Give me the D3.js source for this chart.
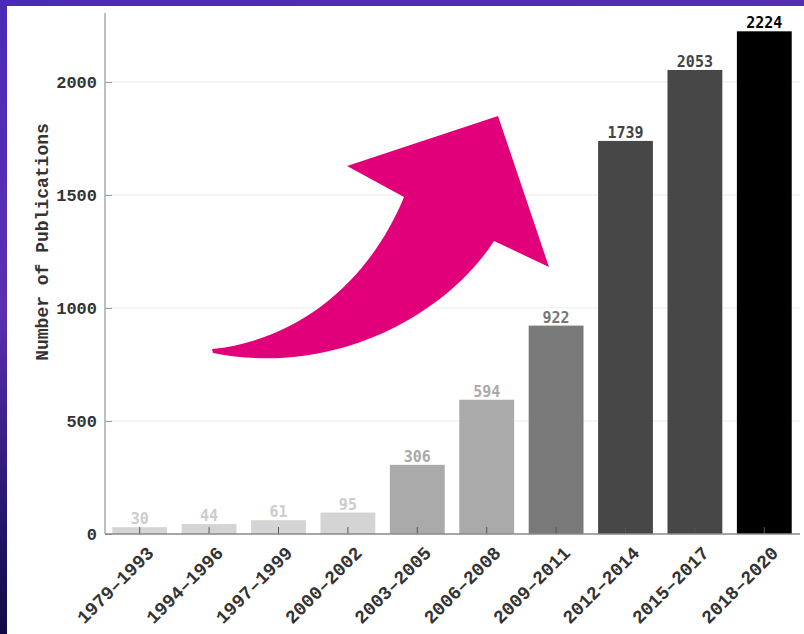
<!DOCTYPE html>
<html><head><meta charset="utf-8">
<script src="https://cdn.jsdelivr.net/npm/d3@7"></script>
<style>html,body{margin:0;padding:0;background:#2a1a80;}svg{display:block;}</style>
</head><body>
<svg id="chart" width="804" height="634"></svg>
<script>
const categories = ["1979–1993","1994–1996","1997–1999","2000–2002","2003–2005","2006–2008","2009–2011","2012–2014","2015–2017","2018–2020"];
const publications = [30,44,61,95,306,594,922,1739,2053,2224];
const barColors = ["#d4d4d4","#d4d4d4","#d4d4d4","#d4d4d4","#aaaaaa","#aaaaaa","#7a7a7a","#474747","#474747","#000000"];
const labelColors = ["#cccccc","#cccccc","#cccccc","#cccccc","#aaaaaa","#aaaaaa","#777777","#444444","#444444","#000000"];
const yTicks = [0,500,1000,1500,2000];
const yMax = 2305;

const svg = d3.select("#chart");
const defs = svg.append("defs");
const g1 = defs.append("linearGradient").attr("id","bg").attr("x1","0").attr("y1","0").attr("x2","0.3").attr("y2","1");
g1.append("stop").attr("offset","0").attr("stop-color","#4a2bb8");
g1.append("stop").attr("offset","0.45").attr("stop-color","#5a2fb0");
g1.append("stop").attr("offset","0.8").attr("stop-color","#1c1260");
g1.append("stop").attr("offset","1").attr("stop-color","#0c0830");
svg.append("rect").attr("width",804).attr("height",634).attr("fill","url(#bg)");
// panel
svg.append("rect").attr("x",7).attr("y",6).attr("width",797).attr("height",628).attr("fill","#ffffff");

const x = d3.scaleBand().domain(categories).range([105,799]).paddingInner(0.21).paddingOuter(0.105);
const y = d3.scaleLinear().domain([0,yMax]).range([534,13]);

// gridlines
svg.append("g").selectAll("line").data(yTicks.filter(d=>d>0)).join("line")
  .attr("x1",105).attr("x2",800).attr("y1",d=>y(d)).attr("y2",d=>y(d))
  .attr("stroke","#ebebeb").attr("stroke-width",1);

// bars
svg.append("g").selectAll("rect").data(publications).join("rect")
  .attr("x",(d,i)=>x(categories[i])).attr("width",x.bandwidth())
  .attr("y",d=>y(d)).attr("height",d=>y(0)-y(d))
  .attr("fill",(d,i)=>barColors[i]);

// value labels
svg.append("g").selectAll("text").data(publications).join("text")
  .attr("x",(d,i)=>x(categories[i])+x.bandwidth()/2).attr("y",d=>y(d)-3)
  .attr("text-anchor","middle")
  .attr("font-family","'DejaVu Sans Mono', monospace").attr("font-size",15).attr("font-weight","bold")
  .attr("fill",(d,i)=>labelColors[i]).text(d=>d);

// y axis
const yAxis = svg.append("g").attr("transform","translate(105,0)")
  .call(d3.axisRight(y).tickValues(yTicks).tickSize(7).tickFormat(d3.format("d")));
yAxis.select(".domain").remove();
yAxis.selectAll(".tick line").attr("stroke","#999");
yAxis.selectAll(".tick text").attr("x",-8).attr("text-anchor","end")
  .attr("font-family","'Liberation Mono', monospace").attr("font-weight","bold")
  .attr("font-size",17).attr("fill","#333");
svg.append("line").attr("x1",105).attr("x2",105).attr("y1",13).attr("y2",534)
  .attr("stroke","#aaaaaa").attr("stroke-width",1.5);

// x axis
const xAxis = svg.append("g").attr("transform","translate(0,534)")
  .call(d3.axisTop(x).tickSize(7).tickSizeOuter(0).tickFormat(""));
xAxis.select(".domain").remove();
xAxis.selectAll(".tick line").attr("stroke","#555");
svg.append("line").attr("x1",105).attr("x2",800).attr("y1",534).attr("y2",534)
  .attr("stroke","#888").attr("stroke-width",1.5);
svg.append("g").selectAll("text").data(categories).join("text")
  .attr("transform",d=>`translate(${x(d)+x.bandwidth()/2+6},${545}) rotate(-45)`)
  .attr("text-anchor","end").attr("dy","0.7em")
  .attr("font-family","'Liberation Mono', monospace").attr("font-weight","bold")
  .attr("font-size",18.5).attr("fill","#333").text(d=>d);

// y label
svg.append("text").attr("transform","translate(48,242) rotate(-90)")
  .attr("text-anchor","middle")
  .attr("font-family","'Liberation Mono', 'Courier New', monospace").attr("font-weight","bold")
  .attr("font-size",18).attr("fill","#333").text("Number of Publications");

// annotation arrow
svg.append("path")
  .attr("d","M212,349 C300,340 370,280 404,197 L347,166 L498,116 L549,267 L494,241 C450,310 340,378 213,353 Z")
  .attr("fill","#e2007a");
</script>
</body></html>
